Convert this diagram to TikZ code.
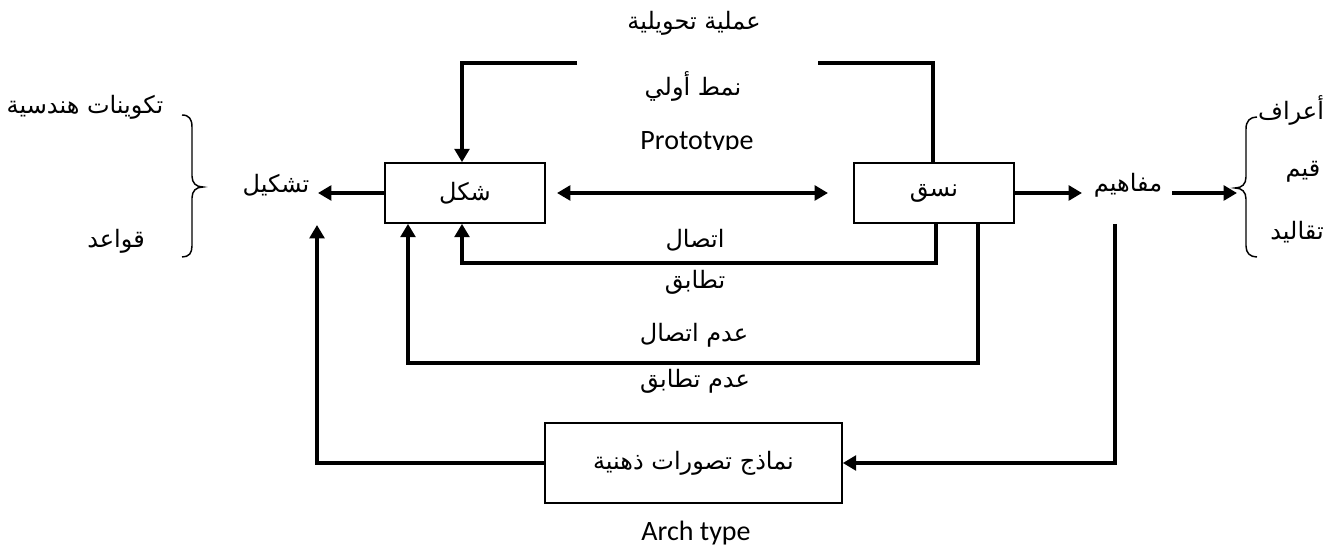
\documentclass[tikz,border=0pt]{standalone}
\usepackage{fontspec}
\usetikzlibrary{arrows.meta}
\TeXXeTstate=1
\newfontfamily\arabicfont[Script=Arabic]{DejaVu Sans}
\newfontfamily\latfont{Carlito}
\newcommand\arsize{\fontsize{18}{22}\selectfont}
\tikzset{
  box/.style={draw, line width=1.2pt, inner sep=0pt, minimum width=120pt, minimum height=45pt, font=\arabicfont\arsize},
  conn/.style={line width=3pt},
  arr/.style={conn, -{Triangle[length=10pt,width=11pt]}},
  darr/.style={conn, {Triangle[length=10pt,width=11pt]}-{Triangle[length=10pt,width=11pt]}},
  ar/.style={font=\arabicfont\arsize, inner sep=0pt},
  lat/.style={font=\latfont\fontsize{21}{25}\selectfont, inner sep=0pt},
  brace/.style={line width=1.1pt}
}
\begin{document}
\begin{tikzpicture}[x=0.75pt,y=-0.75pt]
\useasboundingbox (0,0) rectangle (1343,548);
% boxes
\node[box] (shakl) at (465,193) {\beginR شكل\endR};
\node[box] (nasaq) at (934,193) {\beginR نسق\endR};
\node[box, minimum width=222.75pt, minimum height=60pt] (namadhij) at (693.5,463) {\beginR نماذج تصورات ذهنية\endR};
% labels
\node[ar] (tashkil) at (276,185) {\beginR تشكيل\endR};
\node[ar] (mafahim) at (1128,185) {\beginR مفاهيم\endR};
\node[ar] (takwinat) at (85,107) {\beginR تكوينات هندسية\endR};
\node[ar] (qawaid) at (116,241) {\beginR قواعد\endR};
\node[ar] (aeraf) at (1291,110) {\beginR أعراف\endR};
\node[ar] (qiyam) at (1303,172) {\beginR قيم\endR};
\node[ar] (taqalid) at (1297,232) {\beginR تقاليد\endR};
\node[ar] (amaliya) at (694,23) {\beginR عملية تحويلية\endR};
\node[ar] (namat) at (693,86) {\beginR نمط أولي\endR};
\node[ar] (ittisal) at (695,240) {\beginR اتصال\endR};
\node[ar] (tatabuq) at (695,282) {\beginR تطابق\endR};
\node[ar] (adamitt) at (694,335) {\beginR عدم اتصال\endR};
\node[ar] (adamtat) at (695,381) {\beginR عدم تطابق\endR};
\begin{scope}
\clip (600,100) rectangle (800,150);
\node[lat, anchor=base] (proto) at (697,150) {Prototype};
\end{scope}
\node[lat, anchor=base] (arch) at (696,541) {Arch type};
% coordinates
\coordinate (topL) at (577,63);
\coordinate (topLc) at (462,63);
\coordinate (topR) at (818,63);
\coordinate (topRc) at (933,63);
\coordinate (c1) at (936,263);
\coordinate (c2) at (462,263);
\coordinate (c3) at (978,363);
\coordinate (c4) at (408,363);
\coordinate (mstart) at (1115,224);
\coordinate (c5) at (1115,463);
\coordinate (c6) at (317,463);
\coordinate (c7) at (317,225);
\coordinate (tashkilE) at (318,193);
\coordinate (mafW) at (1082,193);
\coordinate (mafE) at (1172,193);
\coordinate (braceR) at (1237,193);
\coordinate (dl) at (557,193);
\coordinate (dr) at (828,193);
% connectors
\draw[arr] (topL) -- (topLc) -- (shakl.north -| topLc);
\draw[conn] (topR) -- (topRc) -- (nasaq.north -| topRc);
\draw[darr] (dl) -- (dr);
\draw[arr] (shakl.west) -- (tashkilE);
\draw[arr] (nasaq.east) -- (mafW);
\draw[arr] (mafE) -- (braceR);
\draw[arr] (nasaq.south -| c1) -- (c1) -- (c2) -- (shakl.south -| c2);
\draw[arr] (nasaq.south -| c3) -- (c3) -- (c4) -- (shakl.south -| c4);
\draw[arr] (mstart) -- (c5) -- (namadhij.east);
\draw[arr] (namadhij.west) -- (c6) -- (c7);
% braces
\draw[brace] (182,115) .. controls (189,115) and (192,119) .. (192,127) -- (192,176) .. controls (192,183) and (196,187) .. (203,187) .. controls (196,187) and (192,191) .. (192,198) -- (192,246) .. controls (192,253) and (189,257) .. (182,257);
\draw[brace] (1257,117) .. controls (1250,117) and (1246,121) .. (1246,129) -- (1246,177) .. controls (1246,184) and (1242,188) .. (1235,188) .. controls (1242,188) and (1246,192) .. (1246,199) -- (1246,246) .. controls (1246,253) and (1250,257) .. (1257,257);
\end{tikzpicture}
\end{document}
